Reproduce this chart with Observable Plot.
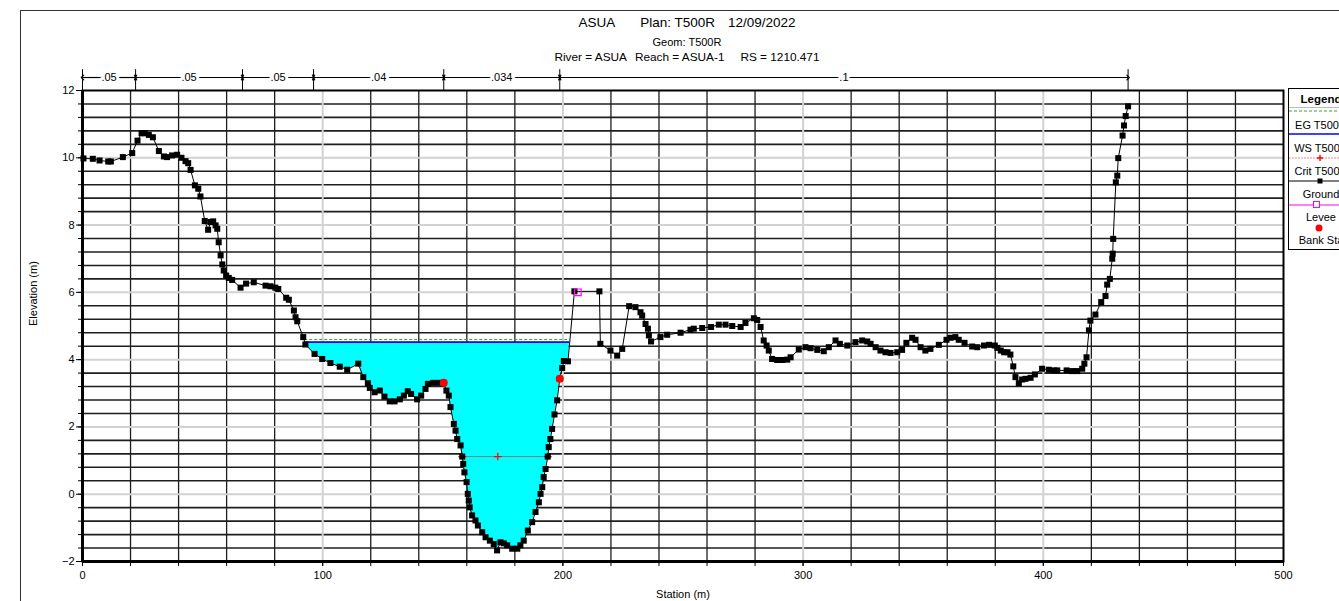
<!DOCTYPE html>
<html><head><meta charset="utf-8">
<script src="https://cdn.jsdelivr.net/npm/d3@7"></script>
<script src="https://cdn.jsdelivr.net/npm/@observablehq/plot@0.6"></script>
<style>
body{margin:0;background:#fff;font-family:"Liberation Sans",Arial,sans-serif;color:#000;}
#wrap{position:relative;width:1339px;height:601px;overflow:hidden;background:#fff;}
#chart{position:absolute;left:0;top:0;}
#border{position:absolute;left:20px;top:10px;width:1400px;height:700px;border-left:1px solid #333;border-top:1px solid #333;}
.t{position:absolute;left:0;width:1374px;text-align:center;white-space:pre;}
#legend{position:absolute;left:1288px;top:88px;width:64px;height:160px;border:1px solid #000;background:#fff;}
.lab{position:absolute;left:0;width:64px;text-align:center;font-size:11px;line-height:12px;white-space:nowrap;}
</style></head><body>
<div id="wrap">
 <div id="border"></div>
 <div id="chart"></div>
 <div class="t" style="top:15px;font-size:13.5px;line-height:16px;">ASUA<span style="margin-left:25px">Plan: T500R</span><span style="margin-left:13px">12/09/2022</span></div>
 <div class="t" style="top:35px;font-size:11px;line-height:14px;">Geom: T500R</div>
 <div class="t" style="top:50px;font-size:11.8px;line-height:14px;">River = ASUA<span style="margin-left:8px">Reach = ASUA-1</span><span style="margin-left:16px">RS = 1210.471</span></div>
 <div id="legend"></div>
</div>
<script>
// ---- data ----
const groundStation = [0.4,4.3,7.1,10.7,11.8,16.8,20.7,22.9,24.6,25.9,27.6,29.3,31.8,33.9,35.2,37.3,39.4,41.2,42.9,44.0,45.0,46.8,48.2,49.1,50.9,52.3,53.3,54.4,55.4,56.1,56.7,57.5,58.2,58.8,59.8,60.9,62.3,65.8,68.1,71.3,76.2,78.3,80.3,81.5,84.8,85.9,88.0,88.7,89.4,91.9,92.8,96.6,99.8,103.2,107.1,110.2,114.8,116.9,118.8,119.6,121.6,123.8,125.7,127.9,129.9,132.1,133.8,135.4,136.8,139.3,141.0,142.8,143.8,146.0,148.3,150.4,151.5,152.5,153.2,154.6,155.3,156.0,157.4,158.1,158.5,159.0,159.9,160.4,160.8,161.2,162.2,163.6,164.6,166.4,167.8,169.6,171.2,172.6,174.0,175.4,176.8,178.9,181.0,182.3,183.7,185.4,187.2,188.6,190.0,190.7,191.4,192.0,192.8,193.7,194.1,194.8,195.5,196.5,197.6,198.7,199.7,200.4,202.1,204.8,215.2,215.6,219.8,222.6,224.7,227.6,230.2,232.3,233.0,234.4,235.4,235.8,236.7,240.6,243.4,249.0,253.1,254.5,258.0,261.7,264.9,267.7,270.5,274.0,276.0,279.5,280.9,282.3,283.6,284.8,285.7,287.1,289.2,291.3,293.4,294.8,298.2,301.0,303.1,305.9,308.6,310.7,313.5,315.3,318.4,321.8,324.6,326.7,328.1,330.2,332.2,334.3,336.4,339.2,341.2,343.0,345.4,346.8,348.9,350.9,353.0,356.5,359.7,361.4,363.4,364.8,367.2,370.4,372.5,375.3,377.4,379.8,380.9,382.3,383.7,385.1,386.3,387.5,388.4,389.8,391.2,392.6,394.7,396.5,399.5,402.3,404.4,405.8,409.7,412.0,414.1,416.2,417.1,418.0,419.0,419.6,421.7,424.1,425.9,426.6,427.7,428.7,428.9,429.1,430.2,430.8,431.2,433.0,433.6,434.3,435.3];
const groundElev = [9.98,9.97,9.92,9.89,9.89,10.02,10.14,10.51,10.73,10.73,10.68,10.61,10.20,10.04,10.02,10.07,10.09,10.0,9.90,9.84,9.64,9.18,9.08,8.85,8.12,7.86,8.09,8.11,7.99,7.89,7.49,7.10,6.83,6.65,6.50,6.43,6.37,6.14,6.26,6.30,6.20,6.18,6.14,6.10,5.84,5.78,5.46,5.26,5.14,4.67,4.45,4.17,4.02,3.90,3.79,3.70,3.88,3.48,3.30,3.16,3.03,3.08,2.90,2.76,2.76,2.82,2.93,3.06,2.98,2.82,2.93,3.13,3.28,3.31,3.31,3.31,3.08,2.93,2.59,2.09,1.89,1.64,1.45,1.12,0.90,0.65,0.36,0.01,-0.19,-0.39,-0.63,-0.78,-0.93,-1.13,-1.28,-1.38,-1.48,-1.67,-1.43,-1.46,-1.52,-1.62,-1.62,-1.52,-1.38,-1.08,-0.83,-0.53,-0.24,0.01,0.21,0.51,0.75,1.12,1.40,1.64,1.94,2.37,2.79,3.43,3.75,3.96,3.95,6.03,6.03,4.47,4.27,4.12,4.32,5.59,5.56,5.41,5.31,5.06,4.92,4.72,4.54,4.67,4.74,4.80,4.89,4.92,4.94,4.97,5.04,5.04,5.00,4.97,5.09,5.23,5.18,4.97,4.57,4.42,4.27,4.02,3.99,3.99,4.00,4.07,4.30,4.37,4.34,4.29,4.25,4.37,4.57,4.47,4.42,4.52,4.57,4.54,4.47,4.37,4.27,4.22,4.20,4.22,4.29,4.50,4.65,4.59,4.37,4.27,4.32,4.44,4.59,4.65,4.67,4.59,4.50,4.39,4.37,4.42,4.44,4.42,4.35,4.27,4.22,4.22,4.15,3.80,3.48,3.30,3.41,3.43,3.46,3.56,3.73,3.70,3.68,3.68,3.68,3.66,3.66,3.73,3.88,4.07,4.87,5.16,5.34,5.71,5.89,6.23,6.40,7.00,7.15,7.59,9.27,9.47,9.99,10.66,10.96,11.24,11.53];

const wsElev = 4.52, egElev = 4.60;          // water surface & energy grade
const wsStations = [92.5, 202.8];             // water edges
const critElev = 1.12;
const critStations = [158.1, 172.9, 193.7];
const leveeStation = [206.2], leveeElev = [6.00];
const bankStation = [150.4, 198.7], bankElev = [3.31, 3.43];
const nStations = [0, 22.1, 66.6, 96.2, 150.4, 198.7, 435.3];
const nValues = [".05", ".05", ".05", ".04", ".034", ".1"];
const xTicks = [0, 100, 200, 300, 400, 500];
const yTicks = [-2, 0, 2, 4, 6, 8, 10, 12];

// ---- derived tables ----
const ground = groundStation.map((x, i) => ({x, y: groundElev[i]}));
const water = [{x: wsStations[0], y: wsElev},
  ...ground.filter(d => d.x > wsStations[0] && d.x < wsStations[1]),
  {x: wsStations[1], y: wsElev}];
const xMinor = d3.range(0, 26).map(i => i * 20);
const yMinor = d3.range(0, 36).map(i => +(-2 + i * 0.4).toFixed(1));
const xMinorGrid = xMinor.filter(v => v % 100 !== 0);
const yMinorGrid = yMinor.filter(v => Math.abs(v % 2) > 1e-6);
const segs = nValues.map((n, i) => ({x1: nStations[i], x2: nStations[i + 1], n, mid: (nStations[i] + nStations[i + 1]) / 2}));
const nY = 12.386, nTop = 12.62;
const font = "'Liberation Sans', Arial, sans-serif";

const chart = Plot.plot({
  width: 1339, height: 601,
  marginLeft: 82, marginRight: 56, marginTop: 90, marginBottom: 40,
  x: {domain: [0, 500]},
  y: {domain: [-2, 12]},
  style: {fontFamily: font, fontSize: "11px", background: "transparent", overflow: "visible", color: "#000"},
  marks: [
    Plot.ruleX(xMinorGrid, {stroke: "#1e1e1e", strokeWidth: 1.3}),
    Plot.ruleY(yMinorGrid, {stroke: "#1e1e1e", strokeWidth: 1.6}),
    Plot.ruleX(xTicks.slice(1, -1), {stroke: "#d2d2d2", strokeWidth: 2}),
    Plot.ruleY(yTicks.slice(1, -1), {stroke: "#d2d2d2", strokeWidth: 2}),
    Plot.areaY(water, {x: "x", y1: "y", y2: () => wsElev, fill: "#00ffff", curve: "linear"}),
    Plot.ruleY([egElev], {x1: wsStations[0], x2: wsStations[1], stroke: "#2eaa2e", strokeWidth: 1, strokeDasharray: "3,2"}),
    Plot.ruleY([wsElev], {x1: wsStations[0], x2: wsStations[1], stroke: "#0000ff", strokeWidth: 1.6}),
    Plot.ruleY([critElev], {x1: critStations[0], x2: critStations[2], stroke: "red", strokeOpacity: 0.5, strokeWidth: 1}),
    Plot.dot(critStations, {x: d => d, y: () => critElev, symbol: "plus", r: 2.6, stroke: "red", strokeWidth: 1.2}),
    Plot.line(ground, {x: "x", y: "y", stroke: "#000", strokeWidth: 1}),
    Plot.dot(ground, {x: "x", y: "y", symbol: "square", r: 3.4, fill: "#000", stroke: "none"}),
    Plot.dot(leveeStation, {x: d => d, y: (d, i) => leveeElev[i], symbol: "square", r: 3.8, fill: "none", stroke: "#ff00ff", strokeWidth: 1.2}),
    Plot.dot(bankStation, {x: d => d, y: (d, i) => bankElev[i], r: 4, fill: "#ff0000", stroke: "none"}),
    Plot.frame({stroke: "#000", strokeWidth: 2}),
    Plot.ruleX([0], {stroke: "#000", strokeWidth: 3}),
    Plot.ruleY([-2], {stroke: "#000", strokeWidth: 3}),
    Plot.axisY(yMinor, {tickSize: 4, tickFormat: () => "", label: null}),
    Plot.axisY(yTicks, {tickSize: 6, tickPadding: 2, fontSize: 11, label: null}),
    Plot.axisX(xMinor, {tickSize: 5, tickFormat: () => "", label: null}),
    Plot.axisX(xTicks, {tickSize: 5, tickPadding: 5, fontSize: 11, label: null}),
    Plot.text(["Station (m)"], {frameAnchor: "bottom", dy: 36, fontSize: 11}),
    Plot.text(["Elevation (m)"], {frameAnchor: "left", dx: -49, rotate: -90, fontSize: 11}),
    // Manning's n bar
    Plot.ruleX(nStations, {y1: 12, y2: nTop, stroke: "#000", strokeWidth: 1}),
    Plot.link(segs, {x1: "mid", x2: "x1", y1: () => nY, y2: () => nY, stroke: "#000", strokeWidth: 1.2, markerEnd: "arrow"}),
    Plot.link(segs, {x1: "mid", x2: "x2", y1: () => nY, y2: () => nY, stroke: "#000", strokeWidth: 1.2, markerEnd: "arrow"}),
    Plot.text(segs, {x: "mid", y: () => nY, text: "n", fontSize: 11, fill: "#000", stroke: "#fff", strokeWidth: 6})
  ]
});
document.getElementById("chart").appendChild(chart);

// ---- legend ----
const legendItems = ["EG T500R", "WS T500R", "Crit T500R", "Ground", "Levee", "Bank Sta"];
const lg = document.getElementById("legend");
let html = `<div style="position:absolute;left:0;top:3px;width:64px;text-align:center;font-weight:bold;font-size:11.5px;line-height:14px;">Legend</div>`;
html += `<div style="position:absolute;left:0;top:18px;width:64px;border-top:1px solid #bbb;"></div>`;
const sym = [
  `<line x1="0" x2="64" y1="4" y2="4" stroke="#2eaa2e" stroke-dasharray="3,2"/>`,
  `<line x1="0" x2="64" y1="4" y2="4" stroke="#0000ff" stroke-width="1.5"/>`,
  `<line x1="0" x2="64" y1="4" y2="4" stroke="#ff8080" stroke-dasharray="2,1"/><path d="M28,4h6M31,1v6" stroke="red" stroke-width="1.4"/>`,
  `<line x1="0" x2="64" y1="4" y2="4" stroke="#000"/><rect x="28.5" y="1.5" width="5" height="5" fill="#000"/>`,
  `<line x1="0" x2="64" y1="4" y2="4" stroke="#ff00ff"/><rect x="24.5" y="0.5" width="6" height="6" fill="#fff" stroke="#ff00ff"/>`,
  `<circle cx="30" cy="4" r="3.5" fill="red"/>`
];
legendItems.forEach((lab, i) => {
  const sy = 110 + 23.4 * i - 88 - 4;
  const ly = 124 + 22.9 * i - 88 - 6;
  html += `<svg style="position:absolute;left:0;top:${sy}px" width="64" height="8">${sym[i]}</svg>`;
  html += `<div class="lab" style="top:${ly}px">${lab}</div>`;
});
lg.innerHTML = html;
</script>
</body></html>
